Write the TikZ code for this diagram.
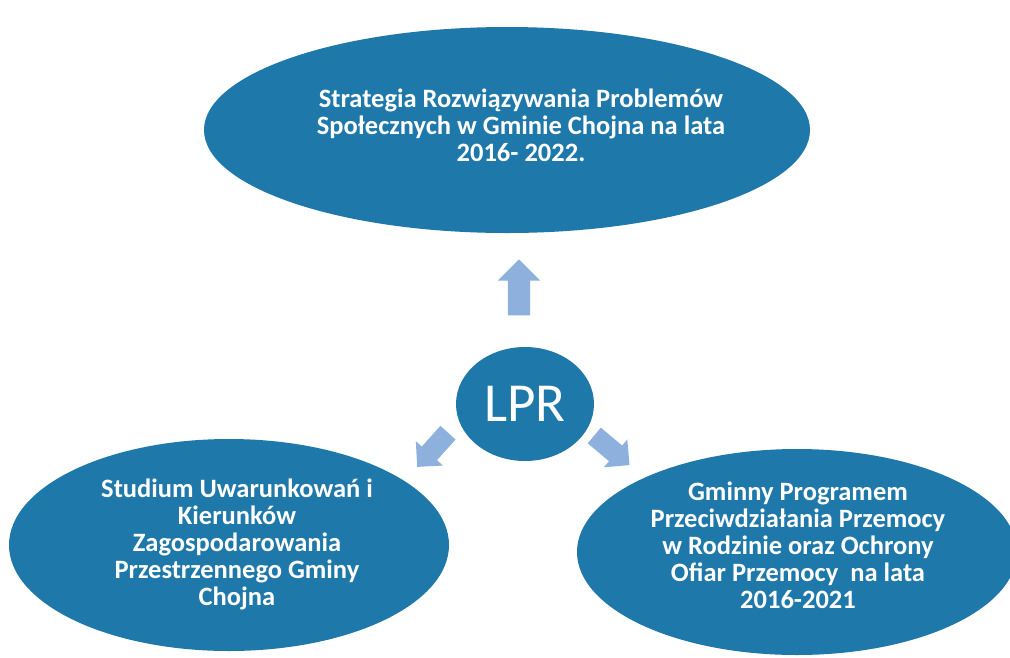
\documentclass[tikz,border=0pt]{standalone}
\usepackage{fontspec}
\setmainfont{Carlito}
\usetikzlibrary{shapes.geometric,shapes.arrows}
\definecolor{ellblue}{RGB}{31,120,170}
\definecolor{arrblue}{RGB}{141,176,221}
\begin{document}
\begin{tikzpicture}[x=1pt,y=-1pt,
  bigell/.style={ellipse, fill=ellblue, draw=none, inner sep=0pt, text=white,
    font=\fontsize{26.5}{27}\selectfont\bfseries, align=center},
  elltext/.style={text=white, font=\fontsize{26.5}{27}\selectfont\bfseries, align=center},
  blockarrow/.style={single arrow, fill=arrblue, draw=none, inner xsep=0pt,
    single arrow head extend=#1},
  blockarrow/.default=10pt]
\path[use as bounding box, fill=white] (0,0) rectangle (1010,657);

\node[bigell, minimum width=606pt, minimum height=206pt] (top) at (507,130) {};
\node[elltext] (toptext) at (521,125)
  {Strategia Rozwiązywania Problemów\\Społecznych w Gminie Chojna na lata\\2016- 2022.};

\node[bigell, minimum width=440pt, minimum height=212pt] (left) at (229,545) {};
\node[elltext] (lefttext) at (237,544)
  {Studium Uwarunkowań i\\Kierunków\\Zagospodarowania\\Przestrzennego Gminy\\Chojna};

\node[bigell, minimum width=440pt, minimum height=206pt] (right) at (797,552) {};
\node[elltext] (righttext) at (798,545)
  {Gminny Programem\\Przeciwdziałania Przemocy\\w Rodzinie oraz Ochrony\\Ofiar Przemocy\ \ na lata\\2016-2021};

\node[ellipse, fill=ellblue, minimum width=138pt, minimum height=114pt, inner sep=0pt,
  text=white, font=\fontsize{55}{60}\selectfont] (lpr) at (525,404) {LPR};

\node[blockarrow, inner ysep=11pt, minimum height=56pt, rotate=90] (aup) at (519,293) {};
\node[blockarrow=8pt, inner ysep=10pt, minimum height=46pt, rotate=-132] (aleft) at (436,446) {};
\node[blockarrow=8pt, inner ysep=10pt, minimum height=46pt, rotate=-40] (aright) at (608,447) {};
\end{tikzpicture}
\end{document}
